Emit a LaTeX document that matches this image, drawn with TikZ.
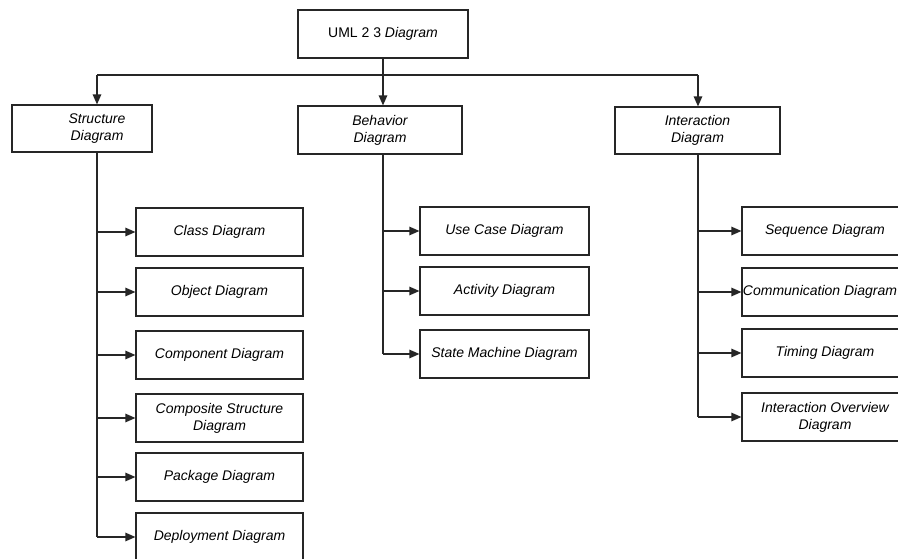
\documentclass[tikz,border=0pt]{standalone}
\usepackage{fontspec}
\setmainfont{Liberation Sans}
\usetikzlibrary{arrows.meta}
\begin{document}
\begin{tikzpicture}[x=1pt,y=-1pt,
  box/.style={draw=black!85, line width=1.2pt, rectangle, inner sep=0pt, align=center,
    font=\fontsize{14}{17}\selectfont\itshape, minimum height=48pt},
  kid/.style={box, minimum height=48pt},
  conn/.style={draw=black!85, line width=1.2pt},
  arr/.style={conn, -{Triangle[length=10pt,width=8.5pt]}}]
\useasboundingbox (0,0) rectangle (898,558);
\fill[white] (0,0) rectangle (898,558);
\begin{scope}
\clip (0,0) rectangle (898,558);
% top
\node[box, minimum width=170pt] (uml) at (383,34) {{\upshape UML 2 3} Diagram};
% level 1
\node[box, minimum width=140pt, minimum height=47pt] (st) at (82,128.5)
  {\hspace*{30pt}\begin{tabular}{@{}c@{}}Structure\\Diagram\end{tabular}};
\node[box, minimum width=164pt] (bh) at (380,130) {Behavior\\Diagram};
\node[box, minimum width=165pt, minimum height=47pt] (ia) at (697.5,130.5) {Interaction\\Diagram};
% structure children
\node[kid, minimum width=167pt] (cls) at (219.5,232) {Class Diagram};
\node[kid, minimum width=167pt] (obj) at (219.5,292) {Object Diagram};
\node[kid, minimum width=167pt] (cmp) at (219.5,355) {Component Diagram};
\node[kid, minimum width=167pt] (cps) at (219.5,418) {Composite Structure\\Diagram};
\node[kid, minimum width=167pt] (pkg) at (219.5,477) {Package Diagram};
\node[kid, minimum width=167pt] (dep) at (219.5,537) {Deployment Diagram};
% behavior children
\node[kid, minimum width=169pt] (uc) at (504.5,231) {Use Case Diagram};
\node[kid, minimum width=169pt] (act) at (504.5,291) {Activity Diagram};
\node[kid, minimum width=169pt] (sm) at (504.5,354) {State Machine Diagram};
% interaction children
\node[kid, minimum width=166pt] (seq) at (825,231) {Sequence Diagram};
\node[kid, minimum width=166pt] (com) at (825,292) {\hspace*{-10pt}Communication Diagram};
\node[kid, minimum width=166pt] (tim) at (825,353) {Timing Diagram};
\node[kid, minimum width=166pt] (ovw) at (825,417) {Interaction Overview\\Diagram};
% bus
\coordinate (busL) at (97,75);
\coordinate (busM) at (383,75);
\coordinate (busR) at (698,75);
\draw[conn] (busL) -- (busR);
\draw[arr] (uml.south) -- (uml.south |- bh.north);
\draw[arr] (busL) -- (busL |- st.north);
\draw[arr] (busR) -- (busR |- ia.north);
% structure trunk
\draw[conn] (busL |- st.south) -- (busL |- dep.west);
\foreach \n in {cls,obj,cmp,cps,pkg,dep}
  \draw[arr] (busL |- \n.west) -- (\n.west);
% behavior trunk
\draw[conn] (busM |- bh.south) -- (busM |- sm.west);
\foreach \n in {uc,act,sm}
  \draw[arr] (busM |- \n.west) -- (\n.west);
% interaction trunk
\draw[conn] (busR |- ia.south) -- (busR |- ovw.west);
\foreach \n in {seq,com,tim,ovw}
  \draw[arr] (busR |- \n.west) -- (\n.west);
\end{scope}
\end{tikzpicture}
\end{document}
